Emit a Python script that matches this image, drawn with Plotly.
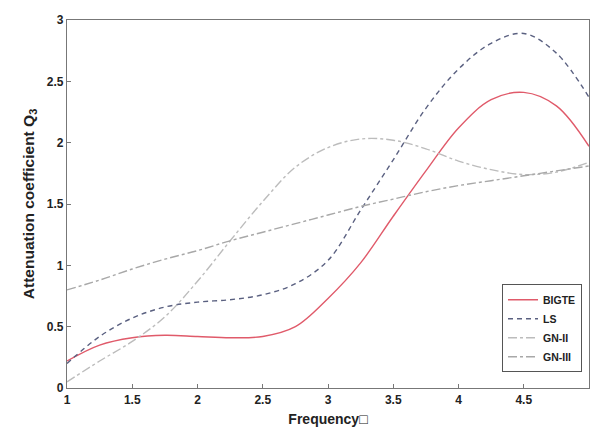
import plotly.graph_objects as go

freq = [1, 1.25, 1.5, 1.75, 2, 2.25, 2.5, 2.75, 3, 3.25, 3.5, 3.75, 4, 4.25, 4.5, 4.75, 5]
bigte = [0.22, 0.35, 0.41, 0.43, 0.42, 0.41, 0.42, 0.5, 0.73, 1.02, 1.4, 1.77, 2.12, 2.35, 2.41, 2.3, 1.97]
ls = [0.2, 0.42, 0.57, 0.66, 0.7, 0.72, 0.76, 0.85, 1.04, 1.45, 1.86, 2.28, 2.6, 2.81, 2.89, 2.73, 2.37]
gn2 = [0.05, 0.22, 0.38, 0.58, 0.87, 1.2, 1.52, 1.8, 1.96, 2.03, 2.02, 1.95, 1.85, 1.78, 1.74, 1.76, 1.84]
gn3 = [0.8, 0.88, 0.97, 1.05, 1.12, 1.2, 1.27, 1.34, 1.41, 1.48, 1.54, 1.6, 1.65, 1.69, 1.73, 1.77, 1.81]

xticks = [1, 1.5, 2, 2.5, 3, 3.5, 4, 4.5, 5]
yticks = [0, 0.5, 1, 1.5, 2, 2.5, 3]
names = ["BIGTE", "LS", "GN-II", "GN-III"]

font = "Liberation Sans, Arial"

fig = go.Figure()
fig.add_trace(go.Scatter(x=freq, y=bigte, name="<b>%s</b>" % names[0], mode="lines",
                         line=dict(color="#e05a6a", width=1.4, shape="spline")))
fig.add_trace(go.Scatter(x=freq, y=ls, name="<b>%s</b>" % names[1], mode="lines",
                         line=dict(color="#5a6080", width=1.4, dash="5px,4px", shape="spline")))
fig.add_trace(go.Scatter(x=freq, y=gn2, name="<b>%s</b>" % names[2], mode="lines",
                         line=dict(color="#bcbcbc", width=1.4, dash="dashdot", shape="spline")))
fig.add_trace(go.Scatter(x=freq, y=gn3, name="<b>%s</b>" % names[3], mode="lines",
                         line=dict(color="#a8a8a8", width=1.4, dash="dashdot", shape="spline")))

axis_common = dict(showgrid=False, zeroline=False, showline=True, linecolor="#777777",
                   linewidth=1.2, mirror=True, ticks="inside", ticklen=4, tickcolor="#777777",
                   tickfont=dict(family=font, size=12, color="#222222"))

fig.update_layout(
    width=590, height=446,
    margin=dict(l=67, r=1, t=20, b=58),
    paper_bgcolor="white", plot_bgcolor="white",
    font=dict(family=font, color="#222222"),
    xaxis=dict(range=[1, 5], tickvals=xticks, ticktext=["<b>%s</b>" % v for v in xticks],
               title=dict(text="<b>Frequency□</b>", font=dict(family=font, size=14), standoff=8),
               **axis_common),
    yaxis=dict(range=[0, 3], tickvals=yticks, ticktext=["<b>%s</b>" % v for v in yticks],
               title=dict(text="<b>Attenuation coefficient Q<sub>3</sub></b>", font=dict(family=font, size=15.5), standoff=8),
               **axis_common),
    legend=dict(x=0.9866, y=0.043, xanchor="right", yanchor="bottom",
                bgcolor="white", bordercolor="#555555", borderwidth=1,
                font=dict(family=font, size=10.5, color="#222222"),
                tracegroupgap=2, itemwidth=30),
)

fig.write_html("out.html")
